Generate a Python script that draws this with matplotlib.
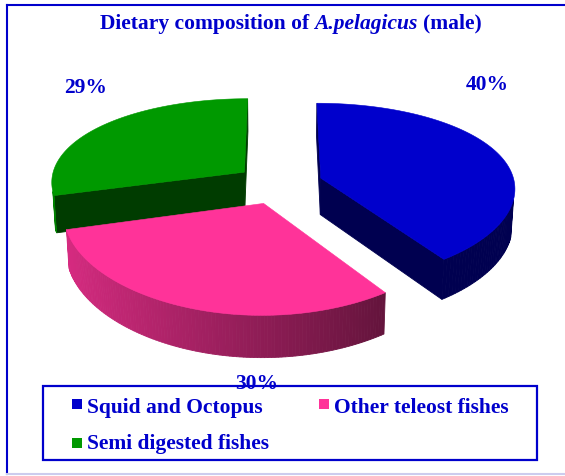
import numpy as np
import matplotlib.pyplot as plt
from matplotlib.patches import Polygon, Rectangle
from matplotlib.colors import to_rgb

# data
categories = ["Squid and Octopus", "Other teleost fishes", "Semi digested fishes"]
shares = [40, 30, 29]
pct_labels = ["40%", "30%", "29%"]
colors = ["#0000cc", "#ff3399", "#009900"]

BLUE = "#0000cc"
FONT = "Liberation Serif"
FS = 15.5

# 3d view of the pie (pixel space), fitted by eye
CX, CY, SCALE = 279, 184, 194
TILT = np.radians(27)
DIST_X = 8.66   # horizontal perspective is weaker than the vertical one
DIST_Y = 5.8
DEPTH = 0.216
EXPLODE = 0.227
CAM = np.array([0.0, -DIST_Y * np.cos(TILT), DIST_Y * np.sin(TILT)])


def project(pts):
    pts = np.atleast_2d(pts)
    x, y, z = pts[:, 0], pts[:, 1], pts[:, 2]
    v = y * np.sin(TILT) + z * np.cos(TILT)
    d = y * np.cos(TILT) - z * np.sin(TILT)
    kx = SCALE * DIST_X / (DIST_X + d)
    ky = SCALE * DIST_Y / (DIST_Y + d)
    return np.column_stack([CX + x * kx, CY - v * ky])


def shade(c, k):
    return tuple(np.clip(np.array(to_rgb(c)) * k, 0, 1))


def wall_light(t):
    # light comes from the left: left part of the rim bright, right part dark
    return float(np.clip(0.39 + 0.294 * (0.57 - np.sin(t)), 0.39, 0.84))


fig = plt.figure(figsize=(5.65, 4.76), dpi=100)
ax = fig.add_axes([0, 0, 1, 1])
ax.set_xlim(0, 565)
ax.set_ylim(476, 0)
ax.axis("off")

# outer frame of the chart area
ax.plot([7, 7], [4.5, 474], color=BLUE, lw=1.5)
ax.plot([7, 565], [4.5, 4.5], color=BLUE, lw=1.5)
ax.plot([7, 565], [474, 474], color="#ccccee", lw=1.5)

# slice angles, clockwise from 12 o'clock
total = float(sum(shares))
ends = np.cumsum(shares) / total * 2 * np.pi
starts = np.concatenate([[0], ends[:-1]])

slices = []
for i in range(len(shares)):
    a0, a1 = starts[i], ends[i]
    mid = (a0 + a1) / 2
    off = EXPLODE * np.array([np.sin(mid), np.cos(mid), 0.0])
    slices.append((off[1], i, a0, a1, off))

# far slices first
slices.sort(key=lambda s: -s[0])

for _, i, a0, a1, off in slices:
    col = colors[i]
    th = np.linspace(a0, a1, 120)
    rim = np.column_stack([np.sin(th), np.cos(th), np.zeros_like(th)]) + off
    rim_b = rim - np.array([0, 0, DEPTH])
    apex = off
    apex_b = off - np.array([0, 0, DEPTH])

    faces = []
    # curved outer wall
    for j in range(len(th) - 1):
        tm = (th[j] + th[j + 1]) / 2
        quad = np.array([rim[j], rim[j + 1], rim_b[j + 1], rim_b[j]])
        n = np.array([np.sin(tm), np.cos(tm), 0])
        c = quad.mean(axis=0)
        if n @ (CAM - c) > 0:
            faces.append((np.linalg.norm(CAM - c), quad, shade(col, wall_light(tm))))
    # radial cut faces
    for a, n in [(a0, np.array([-np.cos(a0), np.sin(a0), 0])),
                 (a1, np.array([np.cos(a1), -np.sin(a1), 0]))]:
        edge = np.array([np.sin(a), np.cos(a), 0])
        quad = np.array([apex, apex + edge, apex_b + edge, apex_b])
        c = quad.mean(axis=0)
        if n @ (CAM - c) > 0:
            faces.append((np.linalg.norm(CAM - c), quad, shade(col, 0.39)))

    faces.sort(key=lambda f: -f[0])
    for _, quad, fc in faces:
        ax.add_patch(Polygon(project(quad), closed=True, facecolor=fc,
                             edgecolor=fc, lw=0.6))

    top = np.vstack([apex, rim])
    ax.add_patch(Polygon(project(top), closed=True, facecolor=col,
                         edgecolor=col, lw=0.4))

# title: upright / italic / upright pieces laid out side by side
title_parts = [("Dietary composition of", "normal"),
               ("A.pelagicus", "italic"),
               ("(male)", "normal")]
renderer = fig.canvas.get_renderer()
txt_kw = dict(va="baseline", ha="left", color=BLUE, fontsize=FS,
              fontweight="bold", family=FONT)
probe1 = ax.text(0, 0, "a a", **txt_kw)
probe2 = ax.text(0, 0, "aa", **txt_kw)
gap = (probe1.get_window_extent(renderer).width
       - probe2.get_window_extent(renderer).width)
probe1.remove()
probe2.remove()

pieces = [ax.text(0, 28.5, s, style=st, **txt_kw) for s, st in title_parts]
widths = [p.get_window_extent(renderer).width for p in pieces]
x = 291 - (sum(widths) + gap * (len(pieces) - 1)) / 2
for p, w in zip(pieces, widths):
    p.set_x(x)
    x += w + gap

# percentage labels
label_pos = [(487, 89.5), (257, 389), (86, 93)]
for txt, (x, y) in zip(pct_labels, label_pos):
    ax.text(x, y, txt, ha="center", va="baseline", color=BLUE,
            fontsize=FS, fontweight="bold", family=FONT)

# legend box
ax.add_patch(Rectangle((43, 386), 494, 74, facecolor="none",
                       edgecolor=BLUE, lw=1.6, zorder=5))
legend_pos = [(72, 399, 413), (319, 399, 413), (72, 438, 449.5)]
for name, col, (x, ysq, ybase) in zip(categories, colors, legend_pos):
    ax.add_patch(Rectangle((x, ysq), 10, 10, facecolor=col, edgecolor="none",
                           zorder=6))
    ax.text(x + 15, ybase, name, ha="left", va="baseline", color=BLUE,
            fontsize=FS, fontweight="bold", family=FONT, zorder=6)

fig.savefig("out.png", dpi=100)
